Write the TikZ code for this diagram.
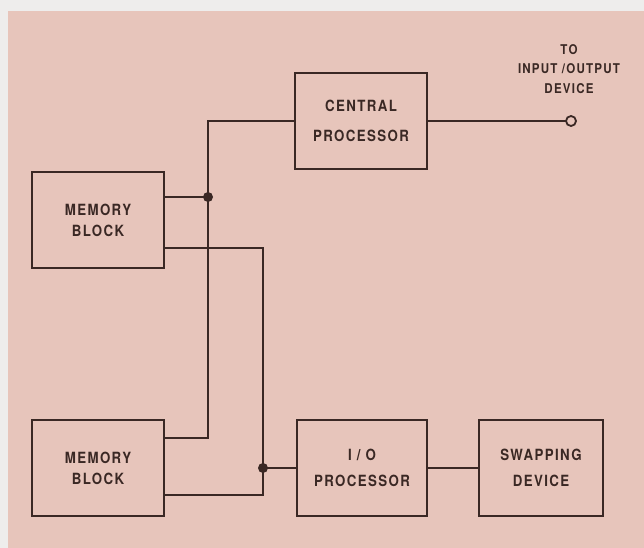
\documentclass[tikz,border=0pt]{standalone}
\usepackage{fontspec}
\setmainfont{TeX Gyre Heros}[FakeStretch=0.86, LetterSpace=9]
\usetikzlibrary{calc}
\definecolor{bg}{RGB}{231,197,187}
\definecolor{ink}{RGB}{58,40,36}
\definecolor{frame}{RGB}{238,237,236}
\begin{document}
\begin{tikzpicture}[x=1bp,y=-1bp,
  box/.style={draw=ink, line width=2bp, minimum width=132bp, minimum height=96bp, inner sep=0pt, text=ink, font=\fontsize{15.5}{21}\selectfont\bfseries, align=center},
  wire/.style={draw=ink, line width=1.8bp},
  dot/.style={circle, fill=ink, inner sep=0pt, minimum size=10bp},
  term/.style={circle, draw=ink, fill=bg, line width=1.8bp, inner sep=0pt, minimum size=10bp},
  lbl/.style={text=ink, font=\fontsize{13.5}{19.5}\selectfont\bfseries, align=center}]
\fill[frame] (0,0) rectangle (644,548);
\fill[bg] (8,11) rectangle (644,548);
\useasboundingbox (0,0) rectangle (644,548);

\node[box] (cp) at (361,121) {CENTRAL\\[9bp]PROCESSOR};
\node[box] (mb1) at (98,220) {MEMORY\\BLOCK};
\node[box] (mb2) at (98,468) {MEMORY\\BLOCK};
\node[box, minimum width=130bp] (io) at (362,468) {I / O\\[5bp]PROCESSOR};
\node[box, minimum width=124bp] (sw) at (541,468) {SWAPPING\\[5bp]DEVICE};
\node[lbl] (tolbl) at (569,69) {TO\\INPUT /OUTPUT\\DEVICE};

\coordinate (j1) at (208,197);
\coordinate (j2) at (263,468);
\coordinate (c1) at (208,121);
\coordinate (c2) at (263,248);
\coordinate (c3) at (263,495);
\coordinate (c4) at (208,438);
\coordinate (oc) at (571,121);

\draw[wire] (cp.west) -- (c1) -- (c4) -- (mb2.east |- c4);
\draw[wire] (mb1.east |- j1) -- (j1);
\draw[wire] (mb1.east |- c2) -- (c2) -- (c3) -- (mb2.east |- c3);
\draw[wire] (j2) -- (io.west);
\draw[wire] (io.east) -- (sw.west);
\draw[wire] (cp.east) -- (oc);

\node[dot] (d1) at (j1) {};
\node[dot] (d2) at (j2) {};
\node[term] (out) at (oc) {};
\end{tikzpicture}
\end{document}
